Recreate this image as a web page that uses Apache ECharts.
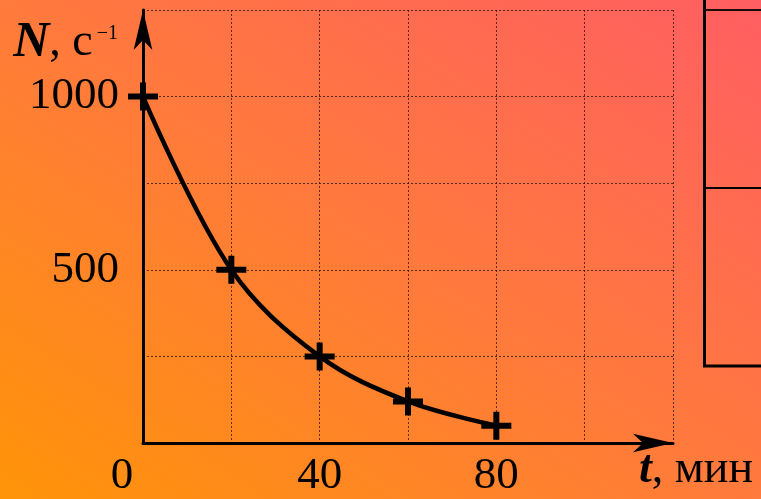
<!DOCTYPE html>
<html>
<head>
<meta charset="utf-8">
<script src="https://cdn.jsdelivr.net/npm/echarts@6/dist/echarts.min.js"></script>
<style>
  html, body { margin: 0; padding: 0; }
  #chart { width: 761px; height: 499px; background: linear-gradient(to top right, #FF9408, #FF7A3C 50%, #FF5E62); }
</style>
</head>
<body>
<div id="chart"></div>
<script>
// Data
const times = [0, 20, 40, 60, 80];          // t, min
const counts = [1000, 500, 250, 120, 50];   // N, s^-1
const xTickLabels = [0, 40, 80];
const yTickLabels = [500, 1000];

const crossPath = 'path://M0,11L30,11L30,17L0,17Z M12,0L18,0L18,28L12,28Z';
const serif = 'Liberation Serif';

const chart = echarts.init(document.getElementById('chart'));
chart.setOption({
  backgroundColor: 'transparent',
  animation: false,
  grid: { left: 143, top: 10, right: 88, bottom: 49, containLabel: false },
  xAxis: {
    type: 'value', min: 0, max: 120, interval: 20,
    axisLine: { show: true, onZero: false, lineStyle: { color: '#000', width: 3 },
      symbol: ['none', 'arrow'], symbolSize: [14, 40], symbolOffset: [0, 0] },
    axisTick: { show: false },
    splitLine: { show: true, lineStyle: { color: 'rgba(40,15,5,0.75)', width: 1, type: [2, 2] } },
    axisLabel: {
      margin: 11, color: '#000', fontFamily: serif, fontSize: 45,
      formatter: v => {
        if (!xTickLabels.includes(v)) return '';
        return v === 0 ? '{o|0}' : String(v);
      },
      rich: { o: { fontFamily: serif, fontSize: 45, color: '#000', padding: [0, 42, 0, 0] } }
    },
    name: '{t|t}{c|, мин}',
    nameLocation: 'end', nameGap: 80,
    nameTextStyle: {
      align: 'right', verticalAlign: 'middle', padding: [54, 0, 0, 0],
      rich: {
        t: { fontFamily: serif, fontSize: 46, fontStyle: 'italic', fontWeight: 'bold', color: '#000' },
        c: { fontFamily: serif, fontSize: 46, color: '#000' }
      }
    }
  },
  yAxis: {
    type: 'value', min: 0, max: 1250, interval: 250,
    axisLine: { show: true, onZero: false, lineStyle: { color: '#000', width: 3 },
      symbol: ['none', 'arrow'], symbolSize: [14, 40], symbolOffset: [0, 0] },
    axisTick: { show: false },
    splitLine: { show: true, lineStyle: { color: 'rgba(40,15,5,0.75)', width: 1, type: [2, 2] } },
    axisLabel: {
      margin: 24, color: '#000', fontFamily: serif, fontSize: 45,
      formatter: v => yTickLabels.includes(v) ? String(v) : ''
    },
    name: '{n|N}{c|, с}{s|−1}',
    nameLocation: 'end', nameGap: -33,
    nameTextStyle: {
      align: 'right', verticalAlign: 'middle', padding: [0, 25, 0, 0],
      rich: {
        n: { fontFamily: serif, fontSize: 50, fontStyle: 'italic', fontWeight: 'bold', color: '#000', lineHeight: 50 },
        c: { fontFamily: serif, fontSize: 46, color: '#000', lineHeight: 50 },
        s: { fontFamily: serif, fontSize: 20, color: '#000', lineHeight: 20, verticalAlign: 'top', padding: [6, 0, 0, 4] }
      }
    }
  },
  series: [{
    type: 'line',
    data: times.map((t, i) => [t, counts[i]]),
    smooth: 0.35,
    showAllSymbol: true,
    symbol: crossPath,
    symbolSize: [30, 28],
    itemStyle: { color: '#000' },
    lineStyle: { color: '#000', width: 4.5 },
    z: 5
  }],
  graphic: [
    { type: 'line', shape: { x1: 704.5, y1: 0, x2: 704.5, y2: 367 }, style: { stroke: '#000', lineWidth: 3 } },
    { type: 'line', shape: { x1: 704, y1: 10, x2: 761, y2: 10 }, style: { stroke: '#1a0a0a', lineWidth: 2 } },
    { type: 'line', shape: { x1: 704, y1: 188, x2: 761, y2: 188 }, style: { stroke: '#000', lineWidth: 2 } },
    { type: 'line', shape: { x1: 703, y1: 366, x2: 761, y2: 366 }, style: { stroke: '#000', lineWidth: 3 } }
  ]
});
</script>
</body>
</html>
